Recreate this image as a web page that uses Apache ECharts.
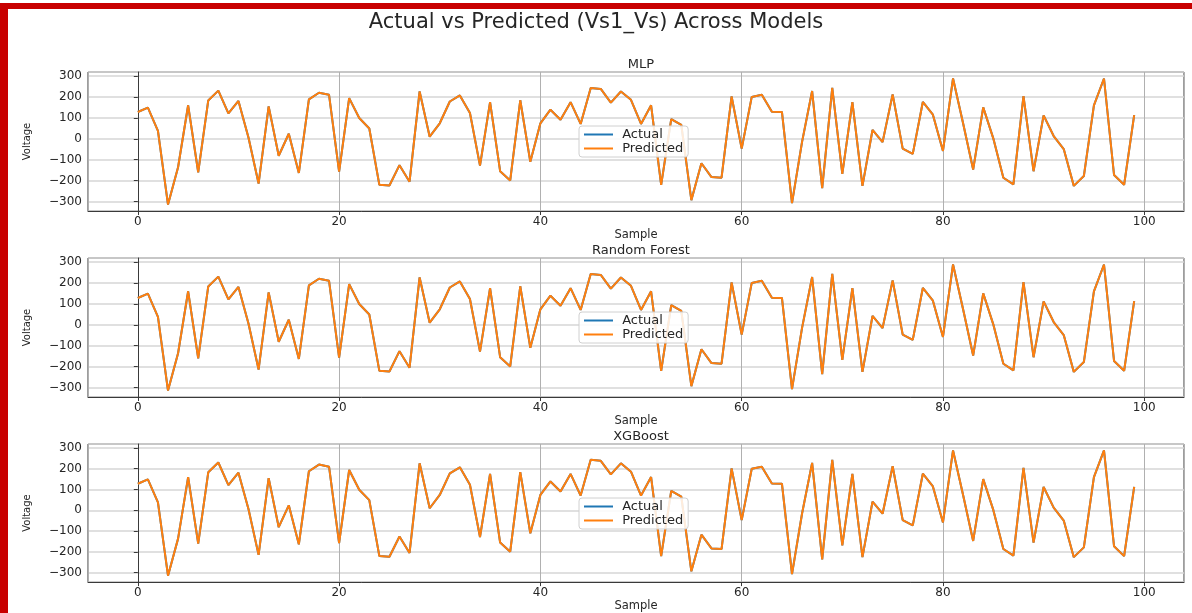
<!DOCTYPE html>
<html>
<head>
<meta charset="utf-8">
<script src="https://cdn.jsdelivr.net/npm/echarts@6/dist/echarts.min.js"></script>
<style>
  html, body { margin: 0; padding: 0; background: #ffffff; }
  #chart { width: 1192px; height: 613px; }
</style>
</head>
<body>
<div id="chart"></div>
<script>
// ---------------- data ----------------
const mainTitle = 'Actual vs Predicted (Vs1_Vs) Across Models';
const modelNames = ['MLP', 'Random Forest', 'XGBoost'];
const seriesNames = ['Actual', 'Predicted'];
const xAxisName = 'Sample';
const yAxisName = 'Voltage';

const actualValues = [128, 149, 38, -314, -136, 160, -160, 183, 230, 121,
  181, 5, -214, 155, -81, 24, -163, 188, 220, 210,
  -157, 194, 99, 49, -220, -223, -126, -205, 226, 10,
  74, 178, 207, 123, -128, 175, -155, -199, 184, -110,
  74, 139, 91, 175, 71, 243, 238, 173, 226, 186,
  71, 160, -220, 94, 66, -293, -117, -183, -186, 202,
  -47, 200, 210, 129, 128, -307, -15, 228, -236, 243,
  -168, 175, -225, 42, -16, 212, -47, -72, 176, 115,
  -58, 288, 74, -147, 150, 2, -186, -218, 204, -155,
  112, 13, -49, -225, -178, 160, 288, -173, -220, 113];

const predictedMLP = [128, 149, 38, -314, -136, 160, -160, 183, 230, 121,
  181, 5, -214, 155, -81, 24, -163, 188, 220, 210,
  -157, 194, 99, 49, -220, -223, -126, -205, 226, 10,
  74, 178, 207, 123, -128, 175, -155, -199, 184, -110,
  74, 139, 91, 175, 71, 243, 238, 173, 226, 186,
  71, 160, -220, 94, 66, -293, -117, -183, -186, 202,
  -47, 200, 210, 129, 128, -307, -15, 228, -236, 243,
  -168, 175, -225, 42, -16, 212, -47, -72, 176, 115,
  -58, 288, 74, -147, 150, 2, -186, -218, 204, -155,
  112, 13, -49, -225, -178, 160, 288, -173, -220, 113];

const predictedRF = [128, 149, 38, -314, -136, 160, -160, 183, 230, 121,
  181, 5, -214, 155, -81, 24, -163, 188, 220, 210,
  -157, 194, 99, 49, -220, -223, -126, -205, 226, 10,
  74, 178, 207, 123, -128, 175, -155, -199, 184, -110,
  74, 139, 91, 175, 71, 243, 238, 173, 226, 186,
  71, 160, -220, 94, 66, -293, -117, -183, -186, 202,
  -47, 200, 210, 129, 128, -307, -15, 228, -236, 243,
  -168, 175, -225, 42, -16, 212, -47, -72, 176, 115,
  -58, 288, 74, -147, 150, 2, -186, -218, 204, -155,
  112, 13, -49, -225, -178, 160, 288, -173, -220, 113];

const predictedXGB = [128, 149, 38, -314, -136, 160, -160, 183, 230, 121,
  181, 5, -214, 155, -81, 24, -163, 188, 220, 210,
  -157, 194, 99, 49, -220, -223, -126, -205, 226, 10,
  74, 178, 207, 123, -128, 175, -155, -199, 184, -110,
  74, 139, 91, 175, 71, 243, 238, 173, 226, 186,
  71, 160, -220, 94, 66, -293, -117, -183, -186, 202,
  -47, 200, 210, 129, 128, -307, -15, 228, -236, 243,
  -168, 175, -225, 42, -16, 212, -47, -72, 176, 115,
  -58, 288, 74, -147, 150, 2, -186, -218, 204, -155,
  112, 13, -49, -225, -178, 160, 288, -173, -220, 113];

const predictedByModel = [predictedMLP, predictedRF, predictedXGB];

// ---------------- chart ----------------
const FONT = 'DejaVu Sans';
const TEXT = '#262626';
const chart = echarts.init(document.getElementById('chart'), null, { renderer: 'canvas' });

const fmt = v => (v < 0 ? '\u2212' + Math.abs(v) : String(v));
const pairs = arr => arr.map((v, i) => [i, v]);

const gridTops = [72, 258, 444];
const GRID_LEFT = 88, GRID_W = 1096, GRID_H = 139;

const titles = [{
  text: mainTitle, left: 'center', top: 7,
  textStyle: { fontFamily: FONT, fontSize: 21, fontWeight: 'normal', color: TEXT }
}];
const grids = [], xAxes = [], yAxes = [], series = [], legends = [];

modelNames.forEach((name, k) => {
  const top = gridTops[k];
  titles.push({
    text: name, left: GRID_LEFT + GRID_W / 2, textAlign: 'center', top: top - 19,
    textStyle: { fontFamily: FONT, fontSize: 13, fontWeight: 'normal', color: TEXT }
  });
  grids.push({
    left: GRID_LEFT, top: top, width: GRID_W, height: GRID_H,
    show: true, borderColor: '#3a3a3a', borderWidth: 1, backgroundColor: 'transparent'
  });
  xAxes.push({
    type: 'value', gridIndex: k, min: -4.95, max: 103.95, splitNumber: 5,
    name: xAxisName, nameLocation: 'middle', nameGap: 11,
    nameTextStyle: { fontFamily: FONT, fontSize: 11.5, color: TEXT },
    axisLine: { show: true, onZero: false, lineStyle: { color: '#3a3a3a', width: 1 } },
    axisTick: { show: true, length: 4, lineStyle: { color: '#3a3a3a' } },
    axisLabel: { fontFamily: FONT, fontSize: 12, color: TEXT, margin: 5,
      showMinLabel: false, showMaxLabel: false, formatter: fmt },
    splitLine: { show: true, lineStyle: { color: '#b0b0b0', width: 1 } }
  });
  yAxes.push({
    type: 'value', gridIndex: k, min: -345, max: 319, splitNumber: 5,
    name: yAxisName, nameLocation: 'middle', nameGap: 56, nameRotate: 90,
    nameTextStyle: { fontFamily: FONT, fontSize: 10, color: TEXT },
    axisLine: { show: true, lineStyle: { color: '#3a3a3a', width: 1 } },
    axisTick: { show: true, length: 4, lineStyle: { color: '#3a3a3a' } },
    axisLabel: { fontFamily: FONT, fontSize: 12, color: TEXT, margin: 6,
      showMinLabel: false, showMaxLabel: false, formatter: fmt },
    splitLine: { show: true, lineStyle: { color: '#d6d6d6', width: 1.5 } }
  });
  series.push({
    name: seriesNames[0], type: 'line', xAxisIndex: k, yAxisIndex: k,
    data: pairs(actualValues), showSymbol: false, symbol: 'none',
    lineStyle: { color: '#1f77b4', width: 2 }, itemStyle: { color: '#1f77b4' },
    z: 2, animation: false
  });
  series.push({
    name: seriesNames[1], type: 'line', xAxisIndex: k, yAxisIndex: k,
    data: pairs(predictedByModel[k]), showSymbol: false, symbol: 'none',
    lineStyle: { color: '#ff7f0e', width: 2 }, itemStyle: { color: '#ff7f0e' },
    z: 3, animation: false
  });
  legends.push({
    data: seriesNames, orient: 'vertical', left: 579, top: top + 54,
    icon: 'rect', itemWidth: 29, itemHeight: 2, itemGap: 1,
    padding: [2, 5, 2, 5],
    backgroundColor: 'rgba(255,255,255,0.85)', borderColor: '#d0d0d0', borderWidth: 1, borderRadius: 3,
    formatter: n => ' ' + n,
    textStyle: { fontFamily: FONT, fontSize: 13, lineHeight: 11, color: TEXT },
    selectedMode: false, z: 10
  });
});

chart.setOption({
  animation: false,
  backgroundColor: '#ffffff',
  title: titles,
  grid: grids,
  xAxis: xAxes,
  yAxis: yAxes,
  legend: legends,
  series: series,
  graphic: [
    { type: 'rect', shape: { x: 0, y: 3, width: 8, height: 613 }, style: { fill: '#c80000' }, silent: true },
    { type: 'rect', shape: { x: 0, y: 3, width: 1192, height: 6 }, style: { fill: '#c80000' }, silent: true }
  ]
});
</script>
</body>
</html>
